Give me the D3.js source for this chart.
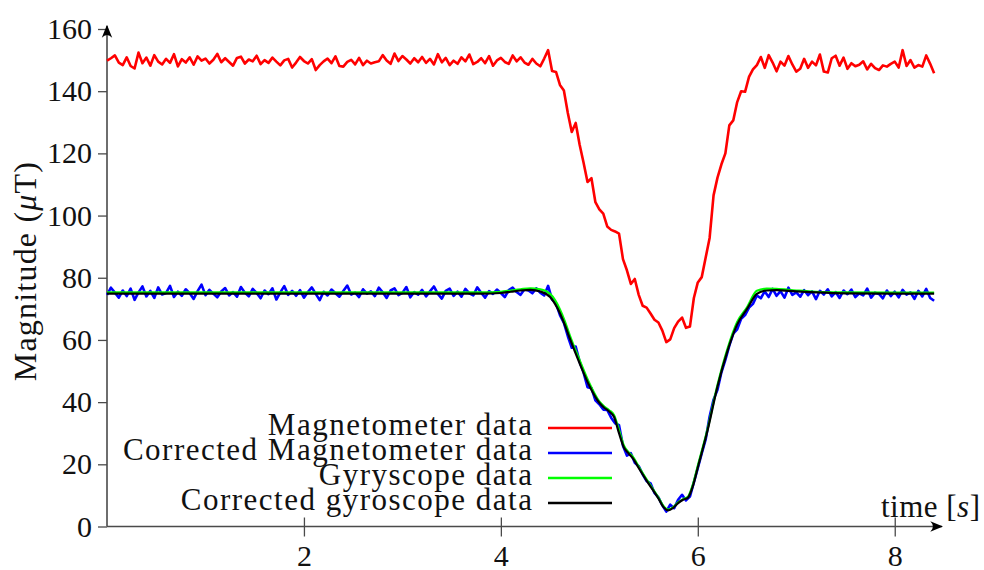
<!DOCTYPE html>
<html>
<head>
<meta charset="utf-8">
<script src="https://cdn.jsdelivr.net/npm/d3@7"></script>
<style>
  body { margin: 0; background: #fff; }
  svg { display: block; font-family: 'Liberation Serif', 'Times New Roman', serif; }
</style>
</head>
<body>
<div id="chart"></div>
<script>
// sampling step of the raw magnetometer series (seconds)
const rawStep = 0.04;

const magnetometer = [
  149.8, 150.6, 151.5, 149.2, 148.4, 150.9, 148.1, 147.3, 152.4, 149.0,
  150.8, 148.2, 151.6, 149.5, 148.6, 150.4, 149.1, 151.9, 148.0, 150.3,
  149.2, 150.9, 148.5, 151.2, 149.8, 150.5, 148.9, 150.1, 152.0, 149.3,
  150.6, 149.4, 148.2, 150.7, 151.1, 148.9, 150.2, 149.6, 151.4, 148.7,
  150.0, 149.1, 150.8, 149.5, 148.3, 149.9, 150.4, 147.6, 149.2, 151.0,
  149.7, 148.9, 150.3, 146.8, 148.4, 149.6, 150.5, 149.0, 151.2, 148.1,
  147.9, 149.4, 150.1, 148.6, 150.7, 148.4, 149.8, 148.9, 149.3, 149.6,
  151.6, 149.9, 148.8, 152.1, 149.7, 151.3, 150.2, 148.9, 150.6, 149.3,
  151.0, 149.1, 150.4, 148.6, 151.9, 149.3, 150.7, 148.4, 149.8, 148.8,
  150.9, 149.6, 151.8, 148.7, 149.4, 150.6, 149.0, 151.3, 148.2, 149.9,
  150.7, 149.4, 148.8, 151.5, 149.6, 150.9, 149.2, 148.5, 150.4, 148.9,
  148.0, 150.5, 153.2, 146.5, 146.2, 142.0, 140.2, 133.0, 126.9, 129.8,
  122.8, 117.0, 110.8, 112.0, 104.3, 102.0, 100.6, 96.5, 95.4, 94.9,
  94.2, 86.0, 82.4, 78.0, 79.6, 74.5, 71.0, 70.4, 68.5, 66.5,
  65.6, 63.0, 59.3, 60.2, 63.8, 65.9, 67.2, 63.9, 64.3, 73.5,
  78.5, 80.2, 86.5, 92.8, 106.5, 112.2, 116.5, 120.0, 129.0, 130.6,
  136.5, 140.0, 139.8, 144.6, 147.0, 148.4, 151.0, 147.5, 151.6, 149.2,
  146.4, 149.5, 148.2, 151.3, 148.6, 146.3, 147.2, 150.4, 147.5, 149.5,
  148.3, 151.8, 146.3, 146.0, 150.6, 151.4, 148.2, 150.8, 147.2, 149.0,
  148.0, 148.5, 149.6, 147.0, 148.8, 147.4, 146.8, 148.3, 147.9, 148.8,
  149.5, 147.6, 153.2, 148.1, 150.0, 147.6, 148.4, 147.9, 151.5, 148.8,
  145.8
];

const correctedMagnetometer = [
  74.5, 76.8, 75.2, 73.6, 75.9, 74.1, 76.5, 72.9, 75.3, 77.2,
  74.0, 75.8, 73.5, 76.9, 74.6, 75.1, 77.4, 73.8, 75.5, 74.2,
  76.3, 75.0, 73.2, 75.7, 77.8, 74.4, 76.1, 74.9, 73.7, 75.6,
  76.7, 74.3, 75.4, 73.9, 77.0, 75.2, 74.0, 76.4, 75.1, 73.4,
  75.9, 74.7, 76.6, 73.0, 75.3, 77.3, 74.5, 75.8, 74.2, 76.0,
  73.6, 75.4, 76.9, 74.8, 72.8, 75.5, 74.3, 76.2, 75.0, 73.9,
  75.7, 77.5, 74.6, 75.2, 73.8, 76.3, 74.9, 75.6, 74.1, 76.8,
  75.3, 73.5, 75.9, 76.6, 74.4, 75.1, 77.0, 73.7, 75.4, 74.6,
  76.1, 74.0, 75.6, 77.2, 74.8, 73.3, 75.8, 76.5, 74.2, 75.5,
  73.9, 76.4, 75.0, 74.3, 76.9, 75.2, 73.6, 75.7, 74.8, 76.2,
  75.1, 73.8, 76.0, 76.8, 75.4, 74.5, 76.3, 75.9, 75.0, 76.6,
  75.2, 74.3, 77.4, 73.0, 71.8, 68.0, 65.5, 61.2, 57.5, 57.9,
  53.0, 49.5, 44.8, 44.5, 40.6, 39.3, 37.6, 37.5, 35.0, 33.2,
  32.6, 26.0, 22.8, 23.6, 20.5, 19.4, 16.8, 14.6, 13.9, 10.8,
  9.4, 6.8, 4.8, 7.0, 5.9, 8.6, 10.2, 8.4, 9.6, 14.2,
  18.8, 23.5, 28.0, 35.4, 40.8, 44.0, 49.6, 53.6, 58.2, 62.0,
  63.4, 66.8, 68.0, 70.4, 71.6, 74.3, 73.4, 75.6, 73.8, 76.4,
  74.2, 75.7, 73.6, 76.8, 74.5, 75.3, 73.9, 76.0, 74.4, 75.6,
  73.1, 75.8, 74.6, 76.3, 74.0, 75.4, 73.5, 75.9, 74.7, 76.2,
  73.8, 75.0, 74.3, 76.5, 73.6, 75.2, 74.8, 73.4, 75.9, 74.1,
  75.5, 73.7, 76.1, 74.6, 75.3, 73.2, 75.8, 74.0, 76.4, 73.5,
  72.6
];

// smooth series, read at these times (seconds)
const smoothTimes = [
  0, 1, 2, 3, 3.8, 4.0, 4.1, 4.2, 4.3, 4.4,
  4.5, 4.55, 4.6, 4.65, 4.7, 4.8, 4.9, 5.0, 5.05, 5.1,
  5.15, 5.2, 5.25, 5.3, 5.35, 5.4, 5.5, 5.6, 5.65, 5.7,
  5.75, 5.8, 5.85, 5.9, 5.95, 6.0, 6.1, 6.2, 6.3, 6.4,
  6.5, 6.6, 6.7, 6.8, 7.0, 7.2, 7.5, 8.0, 8.4
];

const gyroscope = [
  75.3, 75.3, 75.3, 75.3, 75.3, 75.5, 75.9, 76.3, 76.6, 76.3,
  74.8, 72.8, 69.8, 66.0, 61.5, 53.5, 46.0, 40.2, 38.6, 37.4,
  35.8, 31.0, 26.0, 23.8, 22.0, 19.2, 14.2, 9.3, 6.6, 5.4,
  6.2, 7.8, 8.8, 9.6, 13.5, 19.5, 31.5, 45.5, 57.0, 65.8,
  70.5, 75.8, 76.5, 76.4, 75.9, 75.5, 75.3, 75.2, 75.2
];

const correctedGyroscope = [
  74.9, 74.9, 74.9, 74.9, 74.9, 75.1, 75.5, 75.9, 76.1, 75.6,
  73.8, 71.6, 68.6, 64.8, 60.5, 52.5, 45.2, 39.8, 38.2, 37.0,
  35.2, 30.0, 25.4, 23.4, 21.5, 18.8, 13.8, 9.0, 6.3, 5.2,
  6.0, 7.5, 8.6, 9.3, 13.0, 19.0, 31.0, 45.0, 56.3, 65.0,
  70.0, 74.8, 75.9, 76.0, 75.6, 75.3, 75.0, 74.9, 74.9
];

const yTicks = [0, 20, 40, 60, 80, 100, 120, 140, 160];
const xTicks = [2, 4, 6, 8];

const legendNames = ['Magnetometer data', 'Corrected Magnetometer data', 'Gyryscope data', 'Corrected gyroscope data'];
const seriesColors = ['#ff0000', '#0000ff', '#00ff00', '#000000'];

const width = 984;
const height = 570;

const svg = d3.select('#chart')
  .append('svg')
  .attr('width', width)
  .attr('height', height);

const x = d3.scaleLinear().domain([0, 8.48]).range([107, 942]);
const y = d3.scaleLinear().domain([0, 160]).range([526.5, 29]);

const axisColor = '#4a4a4a';

// arrow heads
const defs = svg.append('defs');
defs.append('marker')
  .attr('id', 'arrow')
  .attr('viewBox', '0 0 10 10')
  .attr('refX', 9)
  .attr('refY', 5)
  .attr('markerUnits', 'userSpaceOnUse')
  .attr('markerWidth', 13)
  .attr('markerHeight', 13)
  .attr('orient', 'auto')
  .append('path')
  .attr('d', 'M0,1 Q4,5 0,9 L10,5 Z')
  .attr('fill', '#000');

// y axis
const yAxis = svg.append('g')
  .attr('transform', `translate(${x(0)},0)`)
  .call(d3.axisLeft(y).tickValues(yTicks).tickSize(9).tickPadding(6));
yAxis.select('.domain').remove();
yAxis.selectAll('.tick line').attr('stroke', axisColor).attr('stroke-width', 1.3);
yAxis.selectAll('.tick text')
  .attr('font-size', 30)
  .attr('fill', '#111')
  .attr('font-family', 'Liberation Serif');

// x axis
const xAxis = svg.append('g')
  .attr('transform', `translate(0,${y(0)})`)
  .call(d3.axisBottom(x).tickValues(xTicks).tickSize(10).tickPadding(8));
xAxis.select('.domain').remove();
xAxis.selectAll('.tick line')
  .attr('y1', -9)
  .attr('stroke', axisColor)
  .attr('stroke-width', 1.3);
xAxis.selectAll('.tick text')
  .attr('font-size', 30)
  .attr('fill', '#111')
  .attr('font-family', 'Liberation Serif');

svg.append('line')
  .attr('x1', x(0)).attr('y1', y(0))
  .attr('x2', x(0)).attr('y2', y(160) - 3)
  .attr('stroke', axisColor)
  .attr('stroke-width', 1.6)
  .attr('marker-end', 'url(#arrow)');

svg.append('line')
  .attr('x1', x(0)).attr('y1', y(0))
  .attr('x2', x(8.48)).attr('y2', y(0))
  .attr('stroke', axisColor)
  .attr('stroke-width', 1.6)
  .attr('marker-end', 'url(#arrow)');

// lines
const rawLine = d3.line()
  .x((d, i) => x(i * rawStep))
  .y((d) => y(d));

const smoothLine = d3.line()
  .curve(d3.curveMonotoneX)
  .x((d, i) => x(smoothTimes[i]))
  .y((d) => y(d));

const plot = svg.append('g').attr('fill', 'none').attr('stroke-linejoin', 'round');

plot.append('path')
  .attr('d', rawLine(magnetometer))
  .attr('stroke', seriesColors[0])
  .attr('stroke-width', 2.6);

plot.append('path')
  .attr('d', rawLine(correctedMagnetometer))
  .attr('stroke', seriesColors[1])
  .attr('stroke-width', 2.6);

plot.append('path')
  .attr('d', smoothLine(gyroscope))
  .attr('stroke', seriesColors[2])
  .attr('stroke-width', 2.2);

plot.append('path')
  .attr('d', smoothLine(correctedGyroscope))
  .attr('stroke', seriesColors[3])
  .attr('stroke-width', 2.2);

// axis titles
svg.append('text')
  .attr('transform', 'translate(36,271) rotate(-90)')
  .attr('text-anchor', 'middle')
  .attr('font-size', 32)
  .attr('letter-spacing', 1.2)
  .attr('fill', '#111')
  .html('Magnitude (<tspan font-style="italic">μ</tspan>T)');

svg.append('text')
  .attr('x', 980.5)
  .attr('y', 517)
  .attr('text-anchor', 'end')
  .attr('font-size', 31)
  .attr('letter-spacing', 0.5)
  .attr('fill', '#111')
  .html('time [<tspan font-style="italic">s</tspan>]');

// legend
const legend = svg.append('g')
  .selectAll('g')
  .data(legendNames)
  .join('g')
  .attr('transform', (d, i) => `translate(0,${428 + i * 25})`);

legend.append('text')
  .attr('x', 533.5)
  .attr('y', 7)
  .attr('text-anchor', 'end')
  .attr('font-size', 31)
  .attr('letter-spacing', 1.5)
  .attr('fill', '#111')
  .text((d) => d);

legend.append('line')
  .attr('x1', 548)
  .attr('x2', 612)
  .attr('stroke', (d, i) => seriesColors[i])
  .attr('stroke-width', 2.6);
</script>
</body>
</html>
